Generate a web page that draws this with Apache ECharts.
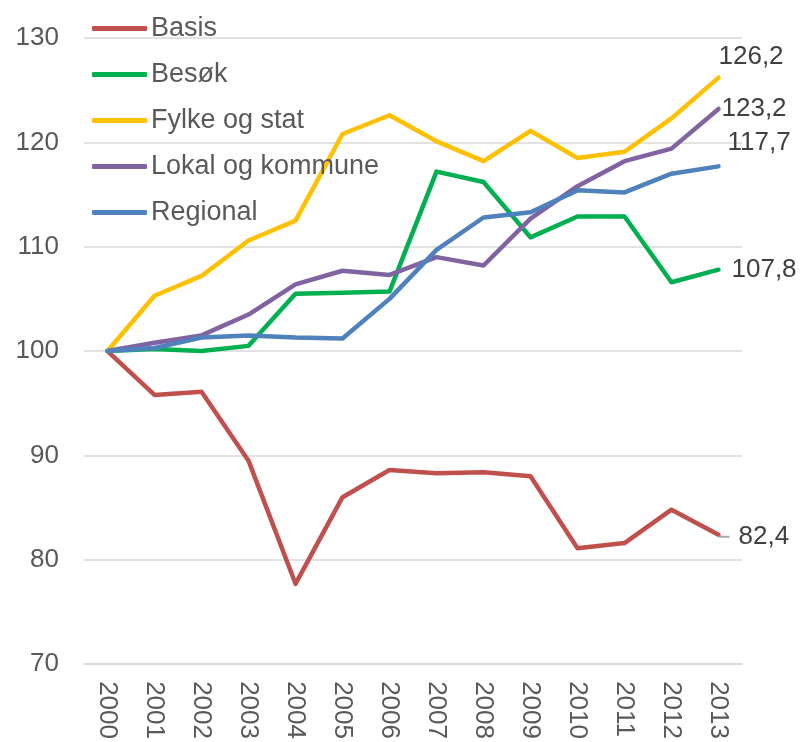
<!DOCTYPE html>
<html>
<head>
<meta charset="utf-8">
<script src="https://cdn.jsdelivr.net/npm/echarts@6/dist/echarts.min.js"></script>
<style>
  html, body { margin: 0; padding: 0; background: #fff; }
  #chart { width: 800px; height: 742px; }
</style>
</head>
<body>
<div id="chart"></div>
<script>
// data
var years = ['2000', '2001', '2002', '2003', '2004', '2005', '2006', '2007', '2008', '2009', '2010', '2011', '2012', '2013'];
var basis    = [100, 95.8, 96.1, 89.5, 77.7, 86.0, 88.6, 88.3, 88.4, 88.0, 81.1, 81.6, 84.8, 82.4];
var besok    = [100, 100.2, 100.0, 100.5, 105.5, 105.6, 105.7, 117.2, 116.2, 110.9, 112.9, 112.9, 106.6, 107.8];
var fylke    = [100, 105.3, 107.2, 110.6, 112.5, 120.8, 122.6, 120.1, 118.2, 121.1, 118.5, 119.1, 122.3, 126.2];
var lokal    = [100, 100.8, 101.5, 103.5, 106.4, 107.7, 107.3, 109.0, 108.2, 112.7, 115.8, 118.2, 119.4, 123.2];
var regional = [100, 100.3, 101.3, 101.5, 101.3, 101.2, 105.0, 109.7, 112.8, 113.3, 115.4, 115.2, 117.0, 117.7];

var comma = function (v) { return String(v).replace('.', ','); };

function line(name, data, color, offset, rich) {
  return {
    name: name,
    type: 'line',
    data: data,
    showSymbol: false,
    symbol: 'none',
    lineStyle: { color: color, width: 4.5, cap: 'round', join: 'round' },
    itemStyle: { color: color },
    emphasis: { disabled: true },
    endLabel: {
      show: true,
      distance: 0,
      offset: offset,
      color: '#404040',
      fontSize: 26,
      fontFamily: 'Liberation Sans, Arial, sans-serif',
      formatter: rich
        ? function (p) { return '{l| }{v|' + comma(p.value) + '}'; }
        : function (p) { return comma(p.value); },
      rich: rich || undefined
    }
  };
}

var chart = echarts.init(document.getElementById('chart'));
chart.setOption({
  animation: false,
  textStyle: { fontFamily: 'Liberation Sans, Arial, sans-serif' },
  grid: { left: 84, right: 58, top: 38, bottom: 76, containLabel: false },
  legend: {
    orient: 'vertical',
    left: 87,
    top: 10,
    icon: 'roundRect',
    itemWidth: 55,
    itemHeight: 5,
    itemGap: 19,
    textStyle: { color: '#595959', fontSize: 27, padding: [0, 0, 0, -1] },
    data: ['Basis', 'Besøk', 'Fylke og stat', 'Lokal og kommune', 'Regional']
  },
  xAxis: {
    type: 'category',
    data: years,
    boundaryGap: true,
    axisLine: { show: true, lineStyle: { color: '#D9D9D9', width: 1.5 } },
    axisTick: { show: false },
    axisLabel: { rotate: -90, margin: 17, color: '#595959', fontSize: 26, interval: 0 }
  },
  yAxis: {
    type: 'value',
    min: 70,
    max: 130,
    interval: 10,
    axisLine: { show: false },
    axisTick: { show: false },
    axisLabel: { margin: 25, color: '#595959', fontSize: 26 },
    splitLine: { lineStyle: { color: '#D9D9D9', width: 1.5 } }
  },
  series: [
    line('Basis', basis, '#C0504D', [0, 2], {
      l: { width: 11, height: 2, backgroundColor: '#A6A6A6' },
      v: { color: '#404040', fontSize: 26, padding: [0, 0, 0, 9] }
    }),
    line('Besøk', besok, '#00B050', [13, 0]),
    line('Fylke og stat', fylke, '#FFC000', [0, -21]),
    line('Lokal og kommune', lokal, '#8064A2', [3, 0]),
    line('Regional', regional, '#4F81BD', [9, -24])
  ]
});
</script>
</body>
</html>
